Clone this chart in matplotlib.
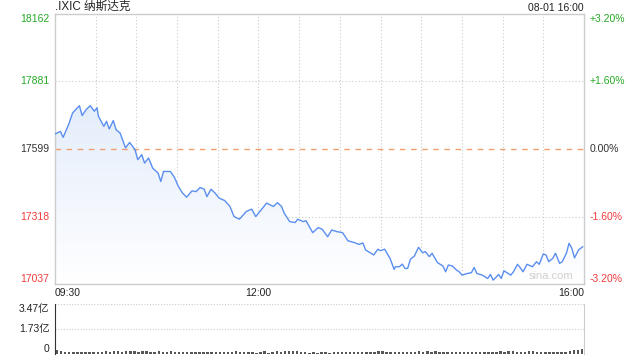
import numpy as np
import matplotlib
matplotlib.use('Agg')
import matplotlib.pyplot as plt

plt.rcParams['font.family'] = ['Liberation Sans', 'Noto Sans CJK SC', 'DejaVu Sans']

# minutes after 09:30 and index value
minutes = [0, 4, 6, 10, 13, 18, 20, 23, 26, 29, 31, 32, 36, 38, 40, 43, 45, 48, 52, 55,
           59, 61, 64, 66, 69, 72, 76, 78, 80, 85, 88, 91, 94, 97, 101, 104, 107, 110, 112, 115,
           118, 121, 125, 129, 132, 136, 141, 145, 148, 152, 156, 161, 164, 167, 169, 173, 177, 179, 183, 185,
           190, 194, 197, 201, 204, 208, 212, 216, 221, 224, 227, 229, 233, 235, 238, 240, 243, 247, 250, 251,
           254, 256, 258, 260, 262, 265, 268, 271, 273, 276, 278, 282, 286, 288, 290, 293, 296, 298, 300, 304,
           307, 309, 311, 315, 319, 321, 323, 325, 327, 329, 331, 334, 336, 338, 341, 343, 345, 348, 352, 355,
           357, 360, 362, 364, 367, 369, 372, 374, 377, 379, 381, 383, 386, 389]
prices = [17662, 17673, 17648, 17701, 17750, 17780, 17739, 17764, 17780, 17757, 17771, 17736, 17694, 17715, 17683, 17718, 17680, 17666, 17604, 17627,
          17597, 17555, 17576, 17541, 17562, 17520, 17499, 17464, 17506, 17506, 17482, 17443, 17416, 17399, 17425, 17422, 17439, 17432, 17401, 17432,
          17416, 17395, 17385, 17360, 17318, 17307, 17339, 17349, 17318, 17346, 17374, 17360, 17376, 17360, 17332, 17297, 17293, 17307, 17297, 17301,
          17251, 17272, 17265, 17234, 17262, 17255, 17251, 17217, 17209, 17202, 17208, 17179, 17165, 17158, 17182, 17176, 17182, 17144, 17098, 17109,
          17109, 17120, 17102, 17102, 17140, 17154, 17190, 17167, 17172, 17151, 17165, 17126, 17112, 17088, 17116, 17112, 17095, 17088, 17074, 17081,
          17084, 17106, 17081, 17074, 17060, 17077, 17053, 17064, 17077, 17060, 17092, 17081, 17074, 17088, 17119, 17105, 17088, 17119, 17109, 17130,
          17119, 17162, 17158, 17130, 17144, 17165, 17123, 17130, 17165, 17207, 17186, 17146, 17179, 17192]
prev_close = 17599.5
left_ticks = [18162, 17881, 17599, 17318, 17037]
right_ticks = ['+3.20%', '+1.60%', '0.00%', '-1.60%', '-3.20%']
x_labels = ['09:30', '12:00', '16:00']

# volume (亿), one bar per 3 minutes
volume = [0.28, 0.21, 0.14, 0.14, 0.14, 0.14, 0.14, 0.14, 0.14, 0.14, 0.14, 0.14, 0.2, 0.14, 0.2, 0.2, 0.14, 0.2, 0.2, 0.21,
          0.14, 0.21, 0.2, 0.14, 0.14, 0.2, 0.14, 0.14, 0.2, 0.14, 0.14, 0.14, 0.14, 0.14, 0.14, 0.14, 0.14, 0.14, 0.14, 0.14,
          0.14, 0.14, 0.14, 0.14, 0.2, 0.14, 0.14, 0.14, 0.14, 0.07, 0.14, 0.2, 0.07, 0.14, 0.2, 0.14, 0.2, 0.2, 0.2, 0.2,
          0.14, 0.14, 0.07, 0.14, 0.07, 0.14, 0.14, 0.07, 0.14, 0.14, 0.14, 0.14, 0.14, 0.14, 0.14, 0.14, 0.14, 0.14, 0.14, 0.2,
          0.2, 0.14, 0.14, 0.14, 0.14, 0.14, 0.14, 0.14, 0.14, 0.2, 0.14, 0.2, 0.14, 0.2, 0.14, 0.14, 0.14, 0.14, 0.14, 0.14,
          0.14, 0.14, 0.14, 0.14, 0.14, 0.14, 0.14, 0.14, 0.14, 0.2, 0.14, 0.2, 0.2, 0.14, 0.14, 0.14, 0.2, 0.2, 0.14, 0.14,
          0.14, 0.14, 0.14, 0.14, 0.14, 0.14, 0.21, 0.28, 0.28, 0.35]
vol_ticks = [0, 1.73, 3.47]
vol_labels = ['0', '1.73亿', '3.47亿']

green = '#26a826'
red = '#f03c3c'
dark = '#333333'
grid_c = '#cccccc'

fig = plt.figure(figsize=(6.4, 3.6), dpi=100)
ax = fig.add_axes([55 / 640, 76 / 360, 529 / 640, 270 / 360])
ax.set_xlim(0, 390)

# gradient fill under the line (white at the bottom, light blue at the top)
poly = ax.fill_between(minutes, prices, left_ticks[-1], color='none')
grad = np.linspace(0, 1, 256).reshape(-1, 1)
cmap = matplotlib.colors.LinearSegmentedColormap.from_list('g', ['#ffffff', '#d6e4f9'])
img = ax.imshow(grad, extent=[0, 390, left_ticks[-1], left_ticks[0]], aspect='auto', cmap=cmap,
                origin='lower', zorder=1)
img.set_clip_path(poly.get_paths()[0], transform=ax.transData)
ax.set_xlim(0, 390)
ax.set_ylim(left_ticks[-1], left_ticks[0])
ax.plot(minutes, prices, color='#5a8ff0', lw=1.0, zorder=3)

# grid
for m in range(30, 390, 30):
    ax.axvline(m, color=grid_c, lw=0.8, ls=(0, (1, 2)), zorder=0)
for v in [left_ticks[1], left_ticks[3]]:
    ax.axhline(v, color=grid_c, lw=0.8, ls=(0, (1, 2)), zorder=0)
ax.axhline(prev_close, color='#f0a070', lw=1.0, ls=(0, (4, 4)), zorder=2)

ax.set_xticks([])
ax.set_yticks([])
for s in ax.spines.values():
    s.set_color('#cccccc')
    s.set_linewidth(1.0)

# y labels
cols = [green, green, dark, red, red]
vas = ['top', 'center', 'center', 'center', 'bottom']
ypos = [left_ticks[0], left_ticks[1], prev_close, left_ticks[3], left_ticks[4]]
for i, v in enumerate(left_ticks):
    ax.annotate(str(v), (0, ypos[i]), xycoords=('axes fraction', 'data'), xytext=(-4, 0),
                textcoords='offset points', ha='right', va=vas[i], color=cols[i], fontsize=7.5)
    ax.annotate(right_ticks[i], (1, ypos[i]), xycoords=('axes fraction', 'data'), xytext=(4, 0),
                textcoords='offset points', ha='left', va=vas[i], color=cols[i], fontsize=7.5)

# x labels
for m, lab, ha in zip([0, 150, 390], x_labels, ['left', 'center', 'right']):
    ax.annotate(lab, (m, 0), xycoords=('data', 'axes fraction'), xytext=(0, -3),
                textcoords='offset points', ha=ha, va='top', color='#222222', fontsize=7.5)

ax.annotate('.IXIC 纳斯达克', (0, 1), xycoords='axes fraction', xytext=(0, 0.5),
            textcoords='offset points', ha='left', va='bottom', fontsize=8.4, color='#222222')
ax.annotate('08-01 16:00', (1, 1), xycoords='axes fraction', xytext=(0, 1),
            textcoords='offset points', ha='right', va='bottom', fontsize=7.5, color='#222222')
ax.text(0.98, 0.01, 'sina.com', transform=ax.transAxes, ha='right', va='bottom',
        fontsize=8, color='#d0d0d0')

# volume panel
vx = fig.add_axes([55 / 640, 6 / 360, 529 / 640, 50 / 360])
vx.set_xlim(0, 390)
vx.set_ylim(0, vol_ticks[-1])
vx.bar(np.arange(len(volume)) * 3 + 1.5, volume, width=1.8, color='#555555', zorder=2)
for v in vol_ticks[1:]:
    vx.axhline(v, color=grid_c, lw=0.8, ls=(0, (1, 1.5)), zorder=0)
vx.set_xticks([])
vx.set_yticks([])
vx.spines['top'].set_visible(False)
vx.spines['bottom'].set_visible(False)
vx.spines['left'].set_color('#333333')
vx.spines['right'].set_color('#cccccc')
for v, lab, va in zip(vol_ticks, vol_labels, ['bottom', 'center', 'top']):
    vx.annotate(lab, (0, v), xycoords=('axes fraction', 'data'), xytext=(-4, 0),
                textcoords='offset points', ha='right', va=va, color='#222222', fontsize=7.5)

fig.savefig('out.png', dpi=100)
